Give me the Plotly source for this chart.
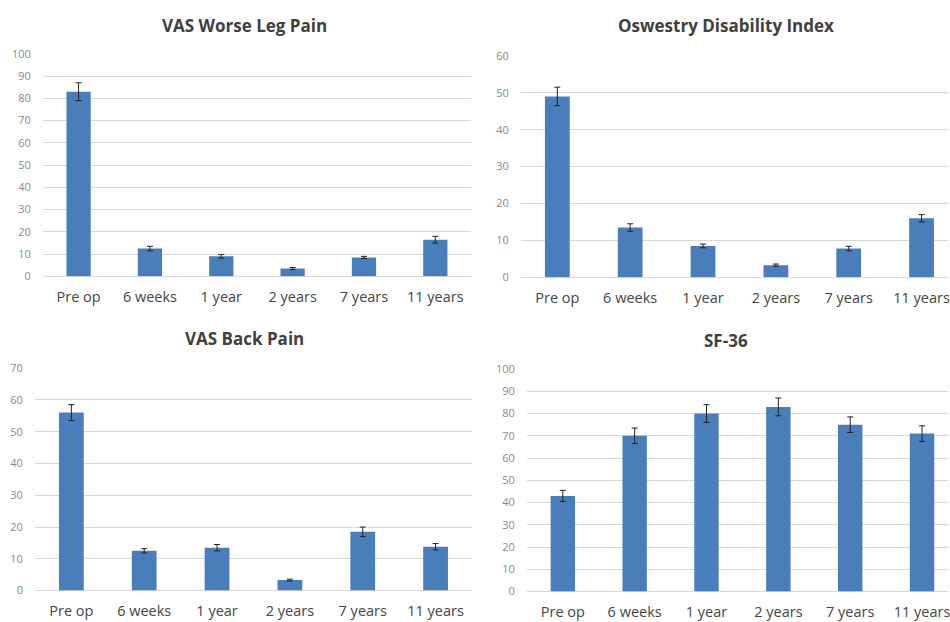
import plotly.graph_objects as go

categories = ["Pre op", "6 weeks", "1 year", "2 years", "7 years", "11 years"]

leg_pain = [83, 12.5, 9, 3.5, 8.5, 16.5]
leg_pain_err = [4, 1, 0.8, 0.5, 0.5, 1.5]

odi = [49, 13.5, 8.5, 3.3, 7.8, 16]
odi_err = [2.5, 1, 0.5, 0.3, 0.6, 1]

back_pain = [56, 12.5, 13.5, 3.3, 18.5, 13.8]
back_pain_err = [2.5, 0.7, 1, 0.3, 1.5, 1]

sf36 = [43, 70, 80, 83, 75, 71]
sf36_err = [2.5, 3.5, 4, 4, 3.5, 3.5]

titles = ["VAS Worse Leg Pain", "Oswestry Disability Index", "VAS Back Pain", "SF-36"]
y_max = [100, 60, 70, 100]

W, H = 950, 622
BAR = "#4a7ebb"
GRID = "#d9d9d9"
FONT = "Open Sans, Liberation Sans, sans-serif"

# panel geometry in pixels (vertical values tuned to the rendered output)
panels = [
    dict(vals=leg_pain, err=leg_pain_err, left=43, right=472, y0=275, yt=47, ty=18, tx=245),
    dict(vals=odi, err=odi_err, left=522, right=960, y0=276, yt=49, ty=18, tx=728),
    dict(vals=back_pain, err=back_pain_err, left=35, right=473, y0=597, yt=369, ty=339, tx=245),
    dict(vals=sf36, err=sf36_err, left=528, right=960, y0=598, yt=370, ty=341, tx=728),
]

fig = go.Figure()
annotations = []
for i, p in enumerate(panels):
    n = i + 1
    xa = "x" if n == 1 else f"x{n}"
    ya = "y" if n == 1 else f"y{n}"
    fig.add_trace(go.Bar(
        x=categories, y=p["vals"], xaxis=xa, yaxis=ya,
        marker=dict(color=BAR, line=dict(width=0)),
        error_y=dict(type="data", array=p["err"], visible=True,
                     color="#222222", thickness=1, width=3),
        showlegend=False,
    ))
    right_px = min(p["right"], W)
    rng_end = -0.5 + 6 * (right_px - p["left"]) / (p["right"] - p["left"])
    xkey = "xaxis" if n == 1 else f"xaxis{n}"
    ykey = "yaxis" if n == 1 else f"yaxis{n}"
    fig.layout[xkey] = dict(
        domain=[p["left"] / W, right_px / W],
        range=[-0.5, rng_end], anchor=ya,
        showgrid=False, zeroline=False, showline=False, ticks="",
        tickfont=dict(family=FONT, size=14.5, color="#454545"),
        ticklabelstandoff=10,
    )
    fig.layout[ykey] = dict(
        domain=[1 - p["y0"] / H, 1 - p["yt"] / H],
        range=[0, y_max[i]], dtick=10, anchor=xa,
        showgrid=True, gridcolor=GRID, gridwidth=1,
        zeroline=True, zerolinecolor=GRID, zerolinewidth=1,
        showline=False, ticks="",
        tickfont=dict(family=FONT, size=11, color="#8a8a8a"),
        ticklabelstandoff=11,
    )
    annotations.append(dict(
        text=f"<b>{titles[i]}</b>", x=p["tx"] / W, y=1 - p["ty"] / H,
        xref="paper", yref="paper", showarrow=False,
        xanchor="center", yanchor="middle",
        font=dict(family=FONT, size=17, color="#404040"),
    ))

fig.update_layout(
    width=W, height=H, margin=dict(l=0, r=0, t=0, b=0),
    paper_bgcolor="white", plot_bgcolor="white",
    bargap=0.66, annotations=annotations,
)

post = (
    "var s=document.createElement('style');"
    "s.innerHTML='html,body{margin:0 !important;padding:0 !important;}';"
    "document.head.appendChild(s);"
)

fig.write_html(
    "out.html",
    config={"displayModeBar": False},
    post_script=post,
)
